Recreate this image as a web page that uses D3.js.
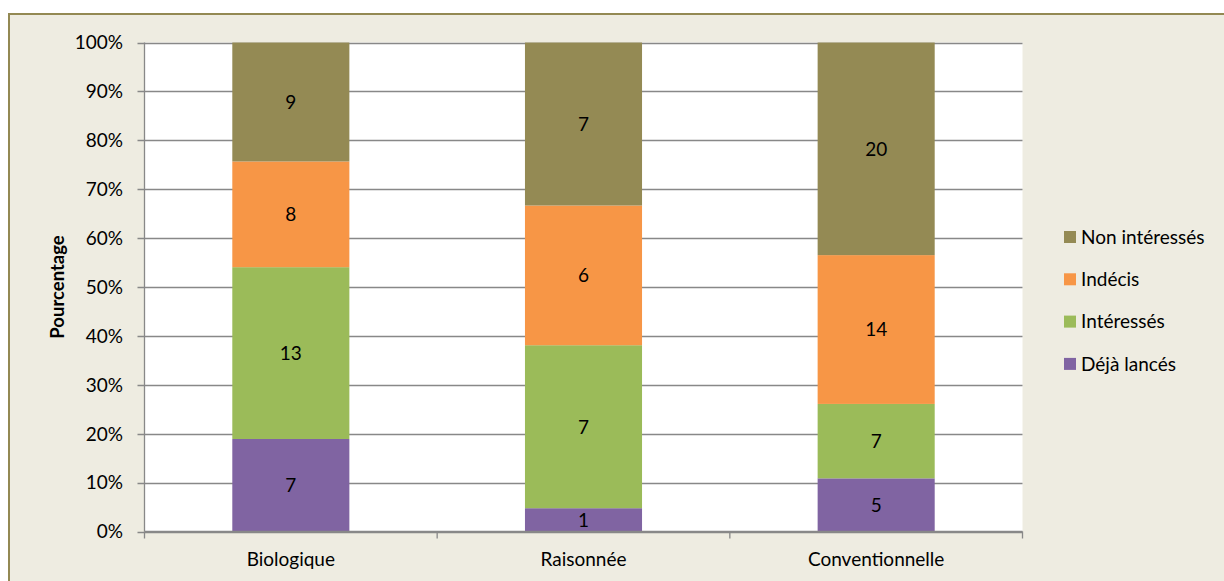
<!DOCTYPE html>
<html><head><meta charset="utf-8">
<script src="https://d3js.org/d3.v7.min.js"></script>
<style>body{margin:0;background:#fff}svg{display:block}text{font-family:Lato,"Open Sans",sans-serif}</style>
</head><body>
<script>
const categories = ["Biologique", "Raisonnée", "Conventionnelle"];
const series = ["Déjà lancés", "Intéressés", "Indécis", "Non intéressés"];
const dejaLances = [7, 1, 5];
const interesses = [13, 7, 7];
const indecis = [8, 6, 14];
const nonInteresses = [9, 7, 20];
const yTicks = [0, 0.1, 0.2, 0.3, 0.4, 0.5, 0.6, 0.7, 0.8, 0.9, 1];
const colors = ["#8064A2", "#9BBB59", "#F79646", "#948A54"];
const FS = 19;

const W = 1224, H = 581;
const svg = d3.select("body").append("svg").attr("width", W).attr("height", H);
svg.append("rect").attr("x", 9).attr("y", 14).attr("width", W).attr("height", H)
  .attr("fill", "#EEECE1").attr("stroke", "#938953").attr("stroke-width", 2);

const L = 144.5, R = 1022.5, T = 42.5, B = 531.5;
svg.append("rect").attr("x", L).attr("y", T).attr("width", R - L).attr("height", B - T).attr("fill", "#fff");

const x = d3.scaleBand().domain(categories).range([L, R]).paddingInner(0.6).paddingOuter(0.3);
const y = d3.scaleLinear().domain([0, 1]).range([B, T]);

// grid
svg.append("g").selectAll("line").data(yTicks).join("line")
  .attr("x1", L - 7).attr("x2", R).attr("y1", d => Math.round(y(d)) + 0.5).attr("y2", d => Math.round(y(d)) + 0.5)
  .attr("stroke", "#888").attr("stroke-width", 1.3);

const rows = categories.map((c, i) => {
  const o = {cat: c};
  o[series[0]] = dejaLances[i]; o[series[1]] = interesses[i]; o[series[2]] = indecis[i]; o[series[3]] = nonInteresses[i];
  o.total = dejaLances[i] + interesses[i] + indecis[i] + nonInteresses[i];
  return o;
});
const stacked = d3.stack().keys(series).value((d, k) => d[k] / d.total)(rows);

const g = svg.append("g");
stacked.forEach((s, si) => {
  g.selectAll(null).data(s).join("rect")
    .attr("x", d => x(d.data.cat)).attr("width", x.bandwidth())
    .attr("y", d => y(d[1])).attr("height", d => y(d[0]) - y(d[1]))
    .attr("fill", colors[si]);
  g.selectAll(null).data(s).join("text")
    .attr("x", d => x(d.data.cat) + x.bandwidth() / 2)
    .attr("y", d => (y(d[0]) + y(d[1])) / 2)
    .attr("dy", "0.36em").attr("text-anchor", "middle").attr("font-size", FS).attr("fill", "#000")
    .text(d => d.data[series[si]]);
});

// y axis
svg.append("line").attr("x1", L).attr("x2", L).attr("y1", T).attr("y2", B).attr("stroke", "#888").attr("stroke-width", 1.3);
svg.append("g").selectAll("text").data(yTicks).join("text")
  .attr("x", 123).attr("y", d => y(d)).attr("dy", "0.36em").attr("text-anchor", "end")
  .attr("font-size", FS).attr("fill", "#000").text(d => Math.round(d * 100) + "%");

// x axis
svg.append("line").attr("x1", L).attr("x2", R).attr("y1", B).attr("y2", B).attr("stroke", "#888").attr("stroke-width", 1.3);
const step = (R - L) / categories.length;
svg.append("g").selectAll("line").data(d3.range(categories.length + 1)).join("line")
  .attr("x1", i => L + i * step).attr("x2", i => L + i * step).attr("y1", B).attr("y2", B + 7)
  .attr("stroke", "#888").attr("stroke-width", 1.3);
svg.append("g").selectAll("text").data(categories).join("text")
  .attr("x", d => x(d) + x.bandwidth() / 2).attr("y", 559).attr("dy", "0.36em").attr("text-anchor", "middle")
  .attr("font-size", FS).attr("fill", "#000").text(d => d);

// y title
svg.append("text").attr("transform", "translate(57," + ((T + B) / 2) + ") rotate(-90)")
  .attr("text-anchor", "middle").attr("dy", "0.36em").attr("font-size", 18.5).attr("font-weight", "bold").text("Pourcentage");

// legend
const legendItems = series.slice().reverse();
const lg = svg.append("g");
legendItems.forEach((s, i) => {
  const ly = 237 + i * 42.3;
  lg.append("rect").attr("x", 1064).attr("y", ly - 6).attr("width", 12).attr("height", 12).attr("fill", colors[series.indexOf(s)]);
  lg.append("text").attr("x", 1081).attr("y", ly).attr("dy", "0.36em").attr("font-size", FS).text(s);
});
</script>
</body></html>
